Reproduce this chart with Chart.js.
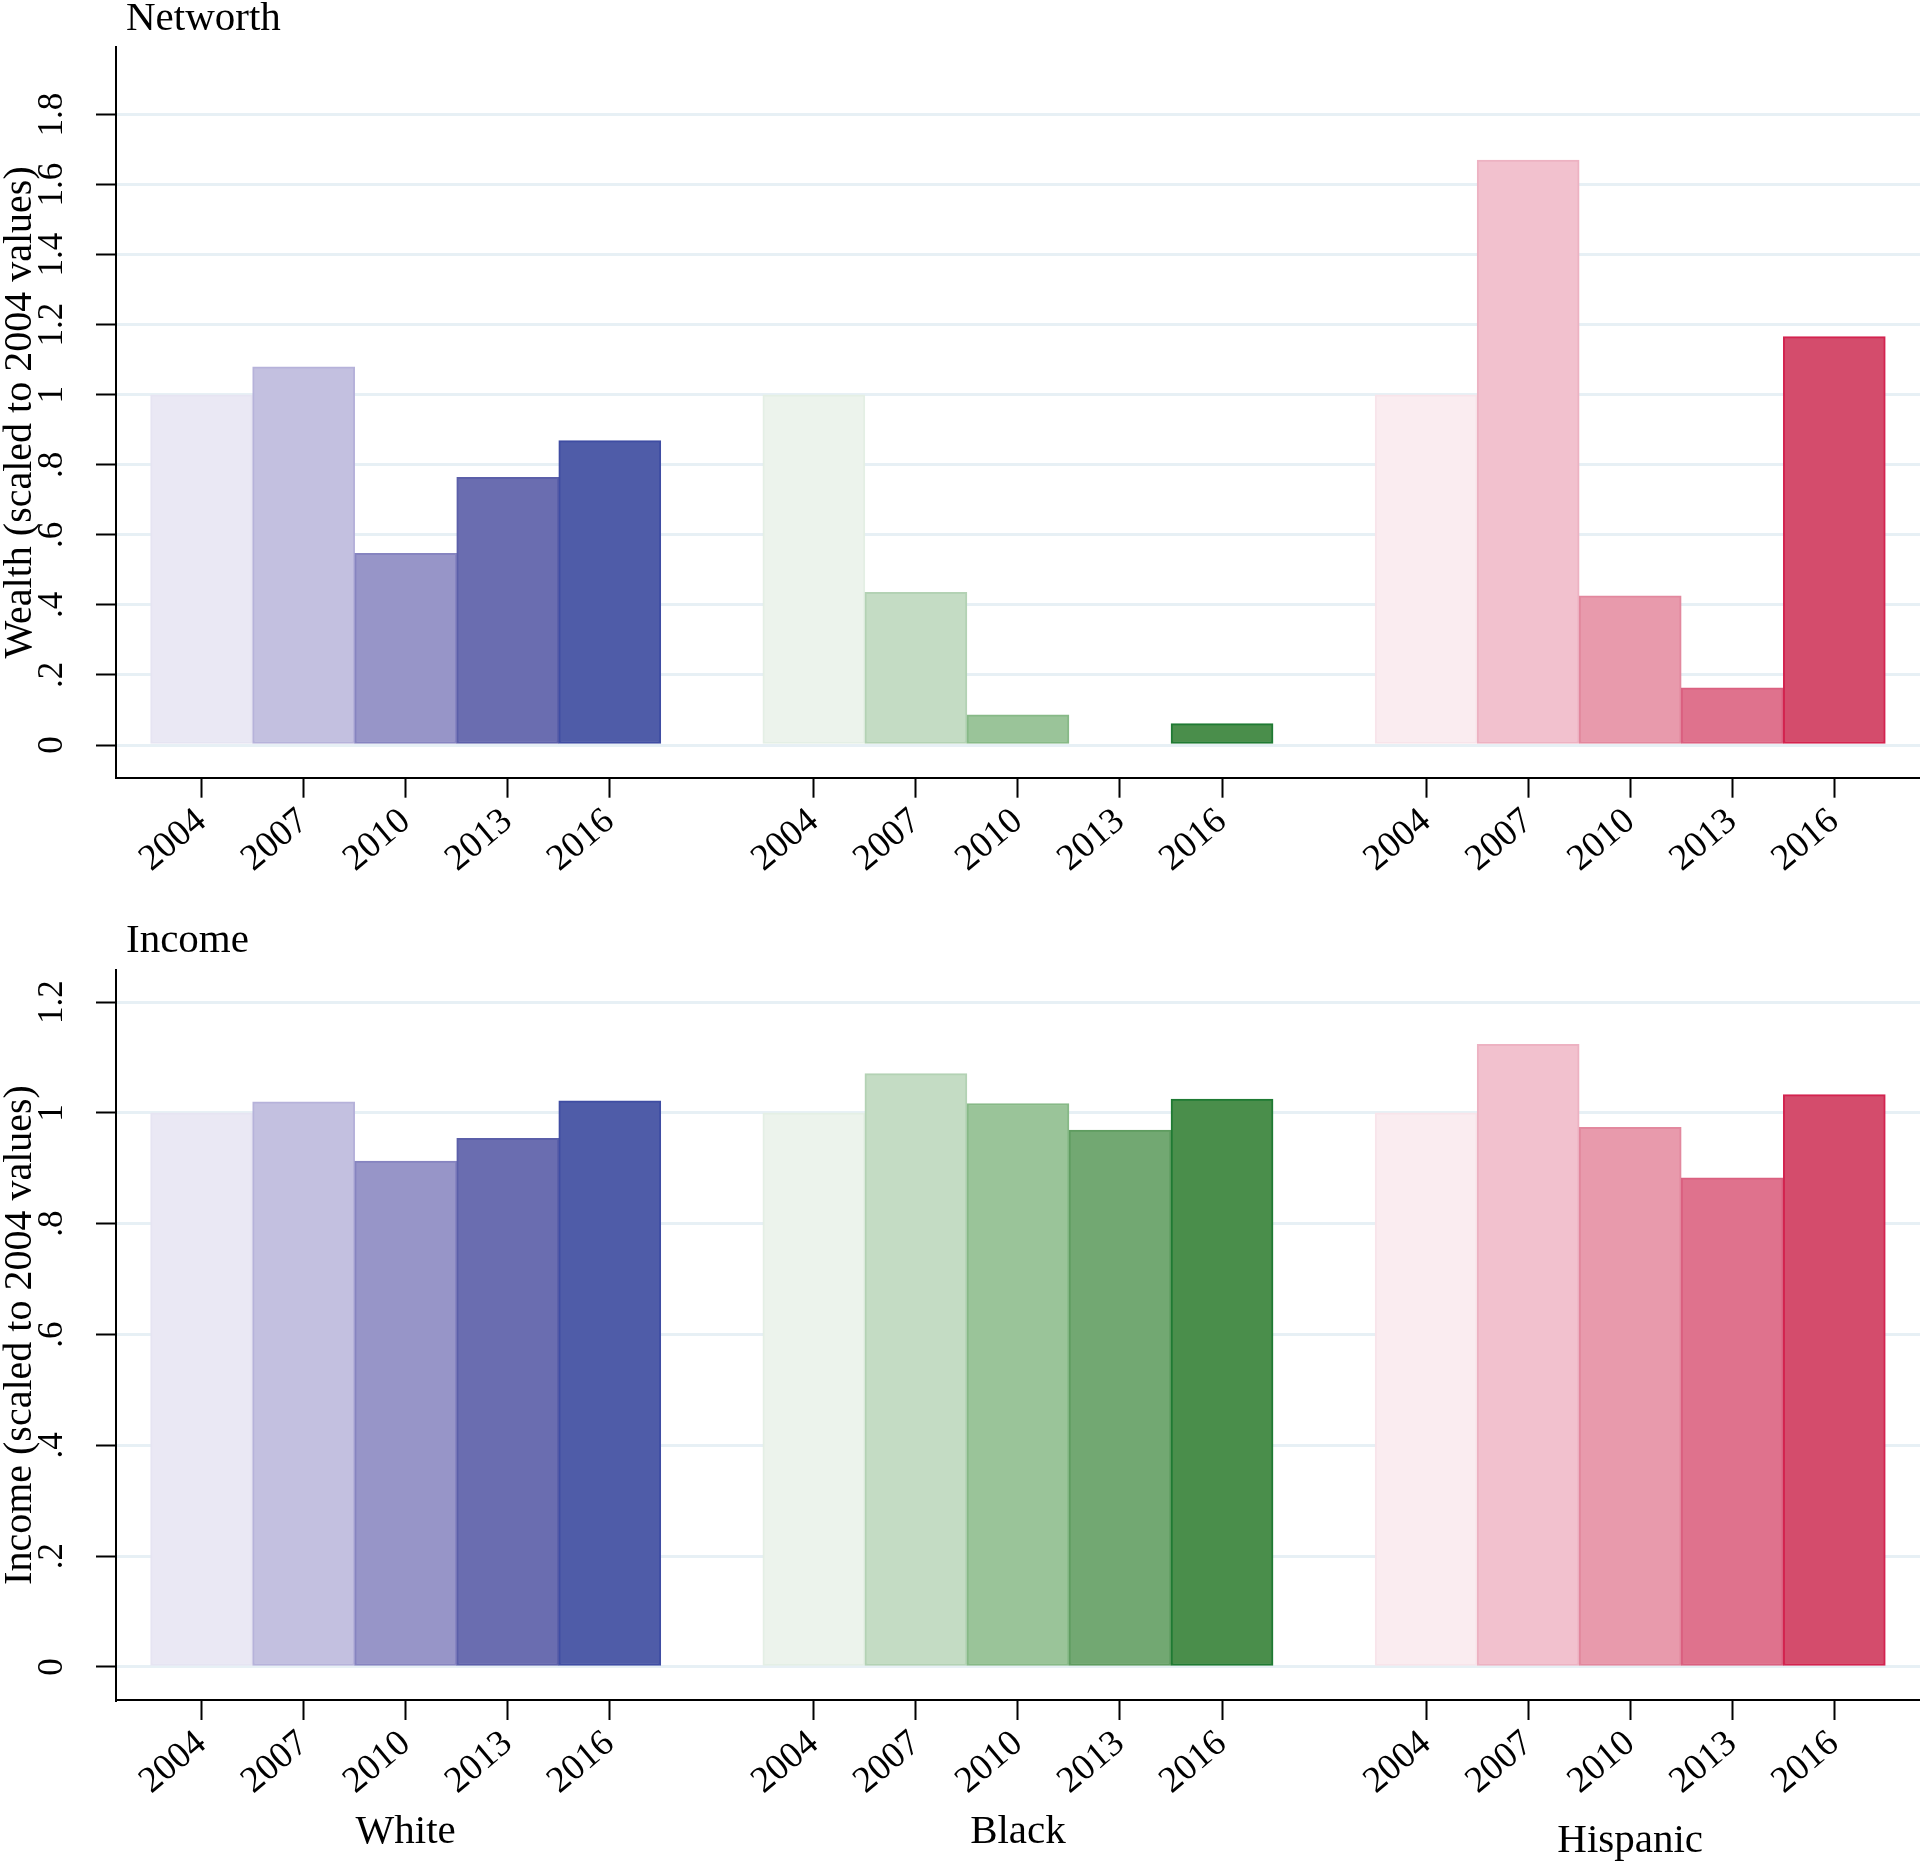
<!DOCTYPE html>
<html>
<head>
<meta charset="utf-8">
<title>Networth and income by race, scaled to 2004</title>
<script src="https://cdn.jsdelivr.net/npm/chart.js@4.4.3/dist/chart.umd.min.js"></script>
<style>
  html, body { margin: 0; padding: 0; background: #fff; }
  .panel { position: absolute; left: 0; }
  #wealth-panel { top: 0; }
  #income-panel { top: 900px; }
</style>
</head>
<body>
<div class="panel" id="wealth-panel"><canvas id="wealth-chart" width="1920" height="900"></canvas></div>
<div class="panel" id="income-panel"><canvas id="income-chart" width="1920" height="961"></canvas></div>
<script>
const years = ["2004", "2007", "2010", "2013", "2016"];
const groups = ["White", "Black", "Hispanic"];

// values scaled to 2004 (2004 = 1)
const wealthWhite = [1, 1.08, 0.547, 0.764, 0.869];
const wealthBlack = [1, 0.436, 0.086, null, 0.061];
const wealthHispanic = [1, 1.67, 0.426, 0.163, 1.166];

const incomeWhite = [1, 1.02, 0.913, 0.954, 1.022];
const incomeBlack = [1, 1.071, 1.017, 0.969, 1.025];
const incomeHispanic = [1, 1.124, 0.974, 0.883, 1.033];

const wealthTicks = [0, 0.2, 0.4, 0.6, 0.8, 1, 1.2, 1.4, 1.6, 1.8];
const wealthTickLabels = ["0", ".2", ".4", ".6", ".8", "1", "1.2", "1.4", "1.6", "1.8"];
const incomeTicks = [0, 0.2, 0.4, 0.6, 0.8, 1, 1.2];
const incomeTickLabels = ["0", ".2", ".4", ".6", ".8", "1", "1.2"];

// one shade per year, light to dark
const groupFills = [
  ["#eae8f4", "#c3c0e0", "#9795c8", "#6a6db0", "#4f5ca8"],
  ["#ecf3ec", "#c4dcc4", "#9ac499", "#72a872", "#4a8e4b"],
  ["#faecf0", "#f2c1ce", "#e89aac", "#df728d", "#d44c6c"],
];
const groupBorders = [
  ["#e6e4f2", "#b6b2da", "#8684c0", "#5b5fa9", "#3f4da3"],
  ["#e4efe5", "#b3d2b4", "#87b987", "#5f9c60", "#1f7a33"],
  ["#f8e4ea", "#edb2c2", "#e2889e", "#da6080", "#d3234f"],
];

const FONT = '"Liberation Serif", "Times New Roman", serif';
const GRID = "#e7f0f5";
const SLOTS_PER_GROUP = years.length + 1; // one empty slot between groups
const tickSlots = groups.flatMap((_, g) => years.map((_, i) => g * SLOTS_PER_GROUP + i));

Chart.defaults.font.family = FONT;
Chart.defaults.color = "#000";

function buildBars(seriesByGroup) {
  const points = [];
  const fills = [];
  const borders = [];
  seriesByGroup.forEach((series, g) => {
    series.forEach((value, i) => {
      points.push({ x: g * SLOTS_PER_GROUP + i, y: value });
      fills.push(groupFills[g][i]);
      borders.push(groupBorders[g][i]);
    });
  });
  return {
    data: points,
    backgroundColor: fills,
    borderColor: borders,
    borderWidth: 2,
    borderSkipped: false,
    barPercentage: 1,
    categoryPercentage: 1,
  };
}

// y tick labels are vertical (Stata style), panel titles and group names
const panelText = {
  id: "panelText",
  afterDraw(chart, args, opts) {
    const { ctx } = chart;
    const yScale = chart.scales.y;
    const xScale = chart.scales.x;
    ctx.save();
    ctx.fillStyle = "#000";

    ctx.font = `35px ${FONT}`;
    ctx.textAlign = "center";
    ctx.textBaseline = "middle";
    yScale.ticks.forEach((tick, index) => {
      const py = yScale.getPixelForValue(tick.value);
      ctx.save();
      ctx.translate(53, py);
      ctx.rotate(-Math.PI / 2);
      ctx.fillText(opts.tickLabels[index], 0, 0);
      ctx.restore();
    });

    ctx.font = `41px ${FONT}`;
    ctx.textAlign = "left";
    ctx.textBaseline = "alphabetic";
    ctx.fillText(opts.title, 126, opts.titleBaseline);

    if (opts.showGroups) {
      ctx.font = `41px ${FONT}`;
      ctx.textAlign = "center";
      groups.forEach((name, g) => {
        const px = xScale.getPixelForValue(g * SLOTS_PER_GROUP + (years.length - 1) / 2);
        const drop = name === "Hispanic" ? 9 : 0;
        ctx.fillText(name, px, 943 + drop);
      });
    }
    ctx.restore();
  },
};

function makePanel(canvas, cfg) {
  return new Chart(canvas, {
    type: "bar",
    data: { datasets: [buildBars(cfg.series)] },
    plugins: [panelText],
    options: {
      responsive: false,
      animation: false,
      layout: { padding: { top: cfg.top, right: 0, bottom: 0, left: 0 } },
      scales: {
        x: {
          type: "linear",
          min: -0.839,
          max: 16.84,
          offset: false,
          afterBuildTicks(scale) {
            scale.ticks = tickSlots.map((value) => ({ value }));
          },
          afterFit(scale) {
            scale.height = cfg.xAxisHeight;
          },
          border: { display: true, color: "#000", width: 2 },
          grid: {
            offset: false,
            drawOnChartArea: false,
            drawTicks: true,
            tickLength: 20,
            tickWidth: 2,
            tickColor: "#000",
          },
          ticks: {
            autoSkip: false,
            minRotation: 40,
            maxRotation: 40,
            padding: 2,
            color: "#000",
            font: { family: FONT, size: 37 },
            callback: (value) => years[value % SLOTS_PER_GROUP],
          },
        },
        y: {
          min: cfg.yMin,
          max: cfg.yMax,
          afterBuildTicks(scale) {
            scale.ticks = cfg.ticks.map((value) => ({ value }));
          },
          afterFit(scale) {
            scale.width = 116;
          },
          border: { display: true, color: "#000", width: 2 },
          grid: {
            color: GRID,
            lineWidth: 3,
            drawTicks: true,
            tickLength: 20,
            tickWidth: 2,
            tickColor: "#000",
          },
          ticks: { display: false },
          title: {
            display: true,
            text: cfg.yTitle,
            color: "#000",
            padding: 0,
            font: { family: FONT, size: 40, lineHeight: 1 },
          },
        },
      },
      plugins: {
        legend: { display: false },
        tooltip: { enabled: false },
        title: { display: false },
        panelText: {
          title: cfg.title,
          titleBaseline: cfg.titleBaseline,
          tickLabels: cfg.tickLabels,
          showGroups: cfg.showGroups,
        },
      },
    },
  });
}

makePanel(document.getElementById("wealth-chart"), {
  series: [wealthWhite, wealthBlack, wealthHispanic],
  ticks: wealthTicks,
  tickLabels: wealthTickLabels,
  yMin: -0.0933,
  yMax: 1.993,
  top: 47,
  xAxisHeight: 122.3,
  title: "Networth",
  titleBaseline: 30,
  yTitle: "Wealth (scaled to 2004 values)",
  showGroups: false,
});

makePanel(document.getElementById("income-chart"), {
  series: [incomeWhite, incomeBlack, incomeHispanic],
  ticks: incomeTicks,
  tickLabels: incomeTickLabels,
  yMin: -0.0596,
  yMax: 1.258,
  top: 70,
  xAxisHeight: 161,
  title: "Income",
  titleBaseline: 52,
  yTitle: "Income (scaled to 2004 values)",
  showGroups: true,
});
</script>
</body>
</html>
